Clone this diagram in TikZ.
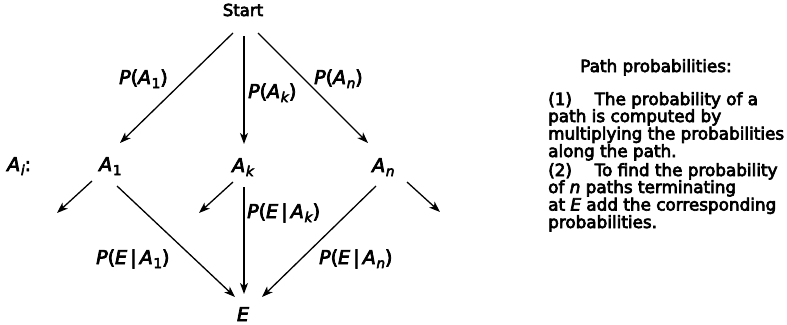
\documentclass[tikz,border=0pt]{standalone}
\usepackage{fontspec}
\setmainfont{DejaVu Sans}[FakeBold=4]
\usetikzlibrary{arrows.meta}
\newcommand{\iv}[1]{\textit{#1}}
\newcommand{\sbx}[1]{\kern0.7pt\raisebox{-4pt}{\fontsize{13.5}{13.5}\selectfont #1}}
\tikzset{
  arr/.style={line width=1.3pt,-{Stealth[length=11pt,width=8pt,inset=3pt]}},
  lbl/.style={inner sep=0pt,anchor=base west,font=\fontsize{19}{19}\selectfont},
  txt/.style={inner sep=0pt,anchor=base west,font=\fontsize{16.8}{17}\selectfont},
}
\begin{document}
\begin{tikzpicture}[x=1pt,y=-1pt]
\fill[white] (0,0) rectangle (787,324);
\useasboundingbox (0,0) rectangle (787,324);
% nodes
\node[lbl,anchor=base,font=\fontsize{16.5}{16.5}\selectfont] (start) at (243,16) {Start};
\node[lbl] (ai) at (7,171) {\iv{A}\sbx{\iv{i}}:};
\node[lbl] (a1) at (99,171) {\iv{A}\sbx{1}};
\node[lbl] (ak) at (232,172) {\iv{A}\sbx{\iv{k}}};
\node[lbl] (an) at (372,172) {\iv{A}\sbx{\iv{n}}};
\node[lbl,anchor=base] (e) at (243,321) {\iv{E}};
% labels
\node[lbl] (pa1) at (119,84) {\iv{P}(\iv{A}\sbx{1})};
\node[lbl] (pak) at (248,98) {\iv{P}(\iv{A}\sbx{\iv{k}})};
\node[lbl] (pan) at (314,84) {\iv{P}(\iv{A}\sbx{\iv{n}})};
\node[lbl] (pea1) at (96,264) {\iv{P}(\iv{E}\,|\,\iv{A}\sbx{1})};
\node[lbl] (peak) at (247,218) {\iv{P}(\iv{E}\,|\,\iv{A}\sbx{\iv{k}})};
\node[lbl] (pean) at (319,264) {\iv{P}(\iv{E}\,|\,\iv{A}\sbx{\iv{n}})};
% arrow end points
\coordinate (s-l) at (233,33);
\coordinate (s-m) at (244,36);
\coordinate (s-r) at (258,33);
\coordinate (a1-t) at (120,143);
\coordinate (ak-t) at (244,144);
\coordinate (an-t) at (368,143);
\coordinate (a1-l) at (92,181);
\coordinate (a1-lo) at (57,213);
\coordinate (a1-r) at (117,186);
\coordinate (ak-l) at (233,182);
\coordinate (ak-lo) at (199,213);
\coordinate (ak-b) at (244,187);
\coordinate (an-l) at (376,186);
\coordinate (an-r) at (407,182);
\coordinate (an-ro) at (440,212);
\coordinate (e-l) at (235,297);
\coordinate (e-m) at (244,294);
\coordinate (e-r) at (262,297);
% connectors
\draw[arr] (s-l) -- (a1-t);
\draw[arr] (s-m) -- (ak-t);
\draw[arr] (s-r) -- (an-t);
\draw[arr] (a1-l) -- (a1-lo);
\draw[arr] (a1-r) -- (e-l);
\draw[arr] (ak-l) -- (ak-lo);
\draw[arr] (ak-b) -- (e-m);
\draw[arr] (an-l) -- (e-r);
\draw[arr] (an-r) -- (an-ro);
% right text
\node[txt,anchor=base] (title) at (656,72) {Path probabilities:};
\node[txt] (t1) at (548,105) {(1)\hspace{1.35em}The probability of a};
\node[txt] (t2) at (548,122) {path is computed by};
\node[txt] (t3) at (548,139.5) {multiplying the probabilities};
\node[txt] (t4) at (548,157) {along the path.};
\node[txt] (t5) at (548,176) {(2)\hspace{1.35em}To find the probability};
\node[txt] (t6) at (548,193) {of \iv{n} paths terminating};
\node[txt] (t7) at (548,210.5) {at \iv{E} add the corresponding};
\node[txt] (t8) at (548,228) {probabilities.};
\end{tikzpicture}
\end{document}
